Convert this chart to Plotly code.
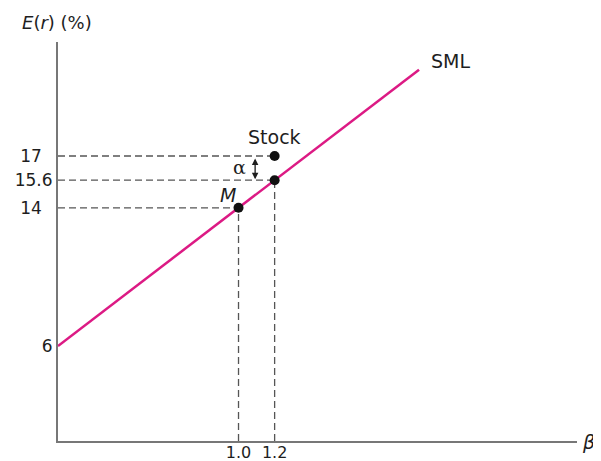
import plotly.graph_objects as go

# ---- data ----
risk_free = 6.0
sml_beta = [0.0, 2.0]
sml_return = [6.0, 22.0]
market_beta = 1.0
market_return = 14.0
stock_beta = 1.2
stock_sml_return = 15.6
stock_return = 17.0
y_tick_vals = [6, 14, 15.6, 17]
y_tick_text = ["6", "14\u2007", "15.6", "17\u2007"]
x_tick_vals = [1.0, 1.2]
x_tick_text = ["1.0", "1.2"]

FONT = "DejaVu Sans"
TXT = "#1e1e1e"
DASH_COLOR = "#555555"
DASH = "7px,4px"

fig = go.Figure()

y_bottom = 0.5
guides = [
    ([0, market_beta], [market_return, market_return]),
    ([market_beta, market_beta], [y_bottom, market_return]),
    ([0, stock_beta], [stock_sml_return, stock_sml_return]),
    ([stock_beta, stock_beta], [y_bottom, stock_sml_return]),
    ([0, stock_beta], [stock_return, stock_return]),
]
for gx, gy in guides:
    fig.add_trace(go.Scatter(x=gx, y=gy, mode="lines",
                             line=dict(color=DASH_COLOR, width=1.3, dash=DASH),
                             hoverinfo="skip", showlegend=False))

fig.add_trace(go.Scatter(x=sml_beta, y=sml_return, mode="lines",
                         line=dict(color="#dc1a84", width=2.5),
                         showlegend=False))

fig.add_trace(go.Scatter(x=[market_beta, stock_beta, stock_beta],
                         y=[market_return, stock_sml_return, stock_return],
                         mode="markers",
                         marker=dict(color="#111111", size=10),
                         showlegend=False))

# page offset of the figure (default body margin of the html page)
OFF = 8
W, H = 601, 461
# plot area in page pixels: left 58, right 577, top 42, bottom 441
ml, mt = 58 - OFF, 42 - OFF
mr = W - (577 - OFF)
mb = H - (441 - OFF)
pw, ph = W - ml - mr, H - mt - mb

annotations = [
    dict(x=sml_beta[1], y=sml_return[1], xref="x", yref="y", text="SML",
         showarrow=False, xanchor="left", yanchor="bottom", xshift=10, yshift=-4,
         font=dict(family=FONT, size=19, color=TXT)),
    dict(x=stock_beta, y=stock_return, xref="x", yref="y", text="Stock",
         showarrow=False, yanchor="bottom", yshift=6,
         font=dict(family=FONT, size=19, color=TXT)),
    dict(x=market_beta, y=market_return, xref="x", yref="y", text="<i>M</i>",
         showarrow=False, xanchor="right", yanchor="bottom", xshift=-1, yshift=0,
         font=dict(family=FONT, size=19, color=TXT)),
    dict(x=1.004, y=16.35, xref="x", yref="y", text="α",
         showarrow=False, font=dict(family="DejaVu Serif", size=19, color=TXT)),
    dict(x=1.092, y=stock_sml_return, ax=1.092, ay=stock_return,
         xref="x", yref="y", axref="x", ayref="y", text="",
         showarrow=True, arrowhead=2, arrowside="end+start", arrowsize=1,
         arrowwidth=1.3, arrowcolor=TXT, standoff=1, startstandoff=1),
    dict(x=57, y=22, xref="page", text="<i>E</i>(<i>r</i>) (%)",
         showarrow=False, font=dict(family=FONT, size=18, color=TXT)),
    dict(x=588, y=442, xref="page", text="<i>β</i>", showarrow=False,
         font=dict(family=FONT, size=19, color=TXT)),
]
fixed = []
for a in annotations:
    if a.get("xref") == "page":
        px, py = a["x"] - OFF, a["y"] - OFF
        a["x"] = (px - ml) / pw
        a["y"] = 1 - (py - mt) / ph
        a["xref"] = "paper"
        a["yref"] = "paper"
        a["xanchor"] = "center"
        a["yanchor"] = "middle"
    fixed.append(a)

fig.update_layout(
    width=W, height=H,
    margin=dict(l=ml, r=mr, t=mt, b=mb, autoexpand=False),
    plot_bgcolor="white", paper_bgcolor="white",
    annotations=fixed,
    xaxis=dict(range=[0, 2.875], showgrid=False, zeroline=False, automargin=False,
               showline=True, linecolor="#777777", linewidth=2,
               tickvals=x_tick_vals, ticktext=x_tick_text, ticks="",
               ticklabelstandoff=-4,
               tickfont=dict(family=FONT, size=16, color=TXT)),
    yaxis=dict(range=[0.5, 23.6], showgrid=False, zeroline=False, automargin=False,
               showline=True, linecolor="#777777", linewidth=2,
               tickvals=y_tick_vals, ticktext=y_tick_text, ticks="",
               ticklabelstandoff=0,
               tickfont=dict(family=FONT, size=17, color=TXT)),
)
fig.write_html("out.html")
